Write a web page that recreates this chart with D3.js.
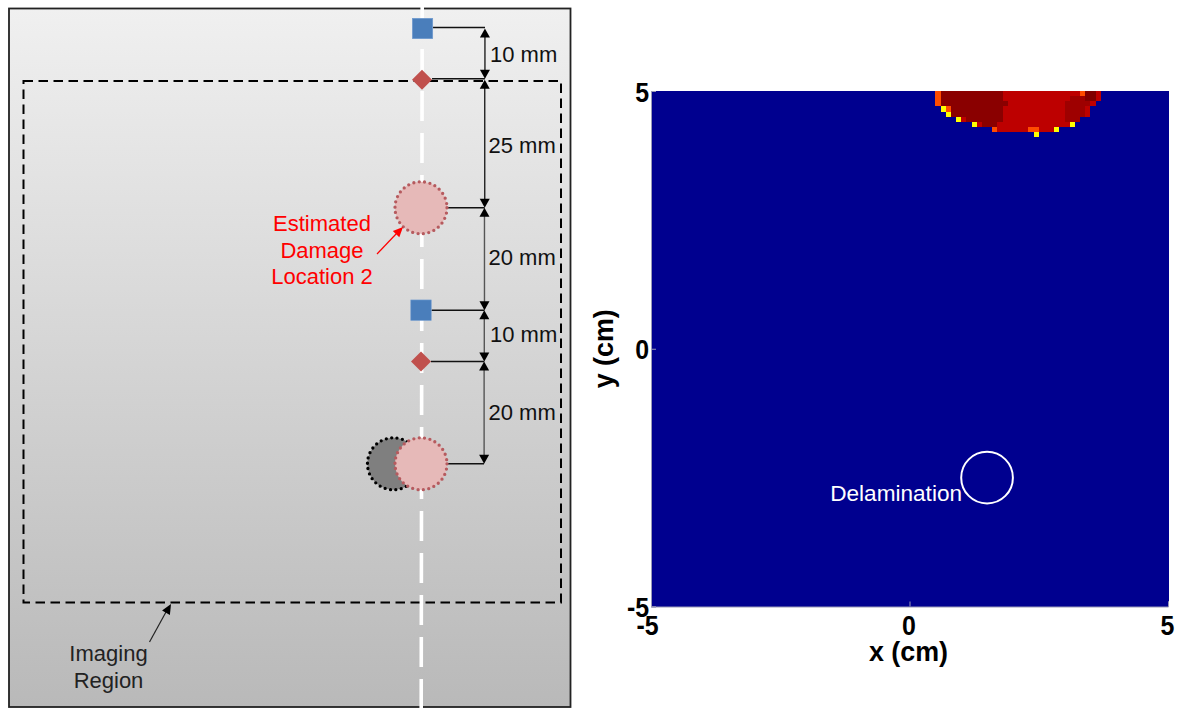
<!DOCTYPE html>
<html><head><meta charset="utf-8">
<script src="https://cdn.jsdelivr.net/npm/d3@7"></script>
<style>
html,body{margin:0;padding:0;background:#fff;overflow:hidden}
text{font-family:"Liberation Sans",Arial,sans-serif}
</style></head><body>
<svg id="c" width="1182" height="709"></svg>
<script>
// ---------- data ----------
const gridSize = 100;               // cells per side of the damage image
const xTicks = [-5, 0, 5];
const yTicks = [-5, 0, 5];
const xTitle = "x (cm)";
const yTitle = "y (cm)";
const delamination = {x: 1.5, y: -2.5, r: 0.5, label: "Delamination"};
// intensity levels
const Y = 0.625, O = 0.8, R = 0.94, M = 0.97, D = 0.99, K = 1;
// non-background runs for each image row from the top: [firstCol, lastCol, level]
const damageRuns = [
  [[55,55,O],[56,67,D],[68,82,R],[83,83,O],[84,85,K],[86,86,R]],
  [[55,55,O],[56,67,D],[68,80,R],[81,83,M],[84,85,K],[86,86,R]],
  [[55,55,O],[56,68,D],[69,79,R],[80,84,M],[85,85,R]],
  [[56,56,Y],[57,57,O],[58,67,D],[68,79,R],[80,83,M],[84,84,R]],
  [[57,57,Y],[58,67,D],[68,79,R],[80,83,M],[84,84,R]],
  [[59,59,Y],[60,60,R],[61,67,D],[68,79,R],[80,82,M]],
  [[62,62,Y],[63,63,R],[64,66,D],[67,80,R],[81,81,Y]],
  [[66,66,O],[67,72,R],[73,74,O],[75,77,R],[78,78,Y]],
  [[74,74,Y]]
];
const sensorMm    = [0, 10, 35, 55, 65, 85];                 // distance along the line
const sensorLat   = [0.3, 0.2, 0, 0, 0, 0];                  // sideways offset of each mark
const sensorKind  = ["square","diamond","damage","square","diamond","damage"];
const ghostDamage = {mm: 85, lat: -5.4};
const spanLabels  = ["10 mm","25 mm","20 mm","10 mm","20 mm"];
const estimatedLabel = ["Estimated","Damage","Location 2"];
const regionLabel    = ["Imaging","Region"];

// ---------- helpers ----------
const svg = d3.select("#c");
const defs = svg.append("defs");
const grad = defs.append("linearGradient").attr("id","bg").attr("x1",0).attr("x2",0).attr("y1",0).attr("y2",1);
grad.append("stop").attr("offset",0).attr("stop-color","#f0f0f0");
grad.append("stop").attr("offset",1).attr("stop-color","#b9b9b9");

function arrowHead(g, tipX, tipY, angle, color, len, w){
  g.append("path").attr("d",`M0,0L${-w/2},${len}L${w/2},${len}Z`)
   .attr("transform",`translate(${tipX},${tipY}) rotate(${angle})`).attr("fill",color||"#000");
}

// ---------- left panel ----------
const L = svg.append("g");
L.append("rect").attr("x",9).attr("y",8.5).attr("width",561.5).attr("height",698.5)
 .attr("fill","url(#bg)").attr("stroke","#222").attr("stroke-width",1.8);

const yMm = d3.scaleLinear().domain([0,85]).range([28.5,463.8]);
const xLat = d3.scaleLinear().domain([0,1]).range([421,426.1]);

// imaging region
L.append("rect").attr("x",23.5).attr("y",81).attr("width",537.5).attr("height",521.5)
 .attr("fill","none").attr("stroke","#000").attr("stroke-width",2).attr("stroke-dasharray","9.5 5.5");

// centre line
L.append("line").attr("x1",422.2).attr("x2",421.2).attr("y1",7).attr("y2",709)
 .attr("stroke","#fff").attr("stroke-width",3.6).attr("stroke-dasharray","30 12");

// connectors
const dimX = d3.scaleLinear().domain([0,85]).range([485,484]);
const startGap = {square:10.5, diamond:10, damage:27};
sensorMm.forEach((mm,i)=>{
  L.append("line").attr("x1",xLat(sensorLat[i])+startGap[sensorKind[i]]).attr("x2",dimX(mm))
   .attr("y1",yMm(mm)-(i<2?1:0)).attr("y2",yMm(mm)-(i<2?1:0))
   .attr("stroke","#111").attr("stroke-width",1.5);
});
// dimension arrows
const labelNudge = [3,3,0,0,2];
d3.pairs(sensorMm).forEach(([a,b],i)=>{
  const ya = yMm(a), yb = yMm(b)-(b==10?1:0);
  const x = dimX((a+b)/2);
  L.append("line").attr("x1",x).attr("x2",x).attr("y1",ya+4).attr("y2",yb-4)
   .attr("stroke",i<2?"#222":"#555").attr("stroke-width",1.4);
  arrowHead(L,x,ya,0,"#000",9,10);
  arrowHead(L,x,yb,180,"#000",9,10);
  L.append("text").attr("x",i==0||i==3?490:488.5).attr("y",(ya+yb)/2+labelNudge[i])
   .attr("dominant-baseline","middle")
   .attr("font-size",22).attr("fill","#111").text(spanLabels[i]);
});

// ghost damage then sensors
L.append("circle").attr("cx",xLat(ghostDamage.lat)).attr("cy",yMm(ghostDamage.mm)).attr("r",26)
 .attr("fill","#7f7f7f").attr("stroke","#000").attr("stroke-width",3.3)
 .attr("stroke-linecap","round").attr("stroke-dasharray","0 5.45");
sensorMm.forEach((mm,i)=>{
  const cx = xLat(sensorLat[i]), cy = yMm(mm), k = sensorKind[i];
  if(k==="square") L.append("rect").attr("x",cx-10.2).attr("y",cy-10.2).attr("width",20.4).attr("height",20.4)
     .attr("fill","#4a7ebb").attr("stroke","#6f9bd0").attr("stroke-width",.6);
  if(k==="diamond") L.append("path").attr("d",`M${cx},${cy-10}L${cx+10},${cy}L${cx},${cy+10}L${cx-10},${cy}Z`)
     .attr("fill","#c0504d");
  if(k==="damage") L.append("circle").attr("cx",cx).attr("cy",cy).attr("r",26)
     .attr("fill","#e6b9b8").attr("stroke","#b65a5e").attr("stroke-width",3.3)
     .attr("stroke-linecap","round").attr("stroke-dasharray","0 5.45");
});

// annotations
estimatedLabel.forEach((t,i)=>L.append("text").attr("x",322).attr("y",231+i*26.5).attr("text-anchor","middle")
   .attr("font-size",22).attr("fill","#f00").text(t));
L.append("line").attr("x1",377).attr("y1",254).attr("x2",397).attr("y2",233).attr("stroke","#f00").attr("stroke-width",1.2);
arrowHead(L,403,227,44,"#f00",10,9);
regionLabel.forEach((t,i)=>L.append("text").attr("x",108.5).attr("y",661+i*26.5).attr("text-anchor","middle")
   .attr("font-size",22).attr("fill","#222").text(t));
L.append("line").attr("x1",149.5).attr("y1",642).attr("x2",166).attr("y2",612).attr("stroke","#222").attr("stroke-width",1.2);
arrowHead(L,171,604,30,"#000",10,9);

// ---------- right panel: damage image ----------
const x = d3.scaleLinear().domain([-5,5]).range([651,1168]);
const y = d3.scaleLinear().domain([-5,5]).range([606.5,91]);
const jet = d3.scaleLinear()
  .domain([0,0.125,0.375,0.625,0.875,1])
  .range(["#00008f","#0000ff","#00ffff","#ffff00","#ff0000","#800000"]);

const cells = [];
const step = (x.domain()[1]-x.domain()[0])/gridSize;
for(let r=0;r<gridSize;r++){
  const levels = new Array(gridSize).fill(0);
  (damageRuns[r]||[]).forEach(([a,b,v])=>{for(let c=a;c<=b;c++)levels[c]=v;});
  levels.forEach((v,c)=>cells.push({c,r,v}));
}
const R2 = svg.append("g");
R2.append("g").attr("shape-rendering","crispEdges").selectAll("rect").data(cells).join("rect")
  .attr("x",d=>x(-5+d.c*step))
  .attr("y",d=>y(5-d.r*step))
  .attr("width",d=>x(-5+(d.c+1)*step)-x(-5+d.c*step)+.6)
  .attr("height",d=>y(5-(d.r+1)*step)-y(5-d.r*step)+.6)
  .attr("fill",d=>jet(d.v));

// delamination
R2.append("circle").attr("cx",x(delamination.x)).attr("cy",y(delamination.y))
  .attr("r",x(delamination.r)-x(0)).attr("fill","none").attr("stroke","#fff").attr("stroke-width",2);
R2.append("text").attr("x",x(delamination.x)-25).attr("y",y(delamination.y)+23.5).attr("text-anchor","end")
  .attr("font-size",22.6).attr("fill","#fff").text(delamination.label);

// axes
const xAxis = R2.append("g").attr("transform",`translate(0,${y(-5)})`)
  .call(d3.axisBottom(x).tickValues(xTicks).tickFormat(String).tickSize(-5).tickPadding(10));
const yAxis = R2.append("g").attr("transform",`translate(${x(-5)},0)`)
  .call(d3.axisLeft(y).tickValues(yTicks).tickFormat(String).tickSize(-5).tickPadding(2));
[xAxis,yAxis].forEach(a=>{
  a.selectAll("path.domain").attr("stroke","#9a9ab8").attr("stroke-width",1);
  a.selectAll(".tick line").attr("stroke","#9a9ab8");
  a.selectAll("text").attr("font-family",'"Liberation Sans",Arial,sans-serif')
    .attr("font-size",28).attr("font-weight","bold").attr("fill","#000");
});
xAxis.selectAll(".tick text").attr("dy","0.66em")
  .attr("transform",d=>`translate(${d===-5?-4:-1},0) scale(.89,1)`);
yAxis.selectAll(".tick text").attr("dy","0.36em").attr("transform","scale(.89,1)");
R2.append("text").attr("transform",`translate(${x(0)-1},661) scale(.96,1)`).attr("text-anchor","middle")
  .attr("font-size",28).attr("font-weight","bold").text(xTitle);
R2.append("text").attr("transform",`translate(613,${y(0)}) rotate(-90) scale(.96,1)`).attr("text-anchor","middle")
  .attr("font-size",28).attr("font-weight","bold").text(yTitle);
</script>
</body></html>
